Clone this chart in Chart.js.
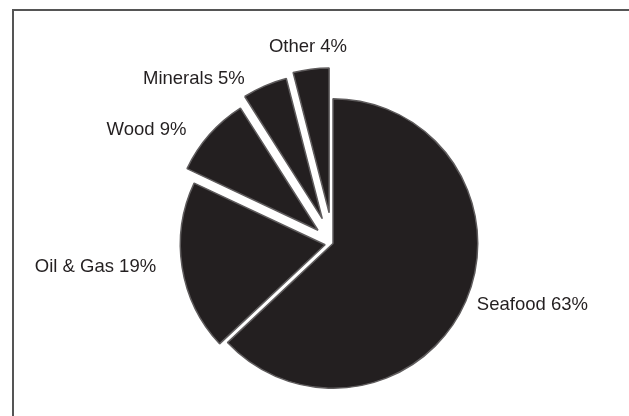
<!DOCTYPE html>
<html>
<head>
<meta charset="utf-8">
<script src="https://cdn.jsdelivr.net/npm/chart.js@4.4.0/dist/chart.umd.min.js"></script>
<style>
  html, body { margin: 0; padding: 0; background: #fff; }
  #wrap { position: relative; width: 629px; height: 416px; overflow: hidden; }
  #frame {
    position: absolute; left: 12px; top: 9px; right: -10px; bottom: -10px;
    border-left: 2px solid #555; border-top: 2px solid #555;
  }
  canvas { position: absolute; left: 0; top: 0; }
</style>
</head>
<body>
<div id="wrap">
  <div id="frame"></div>
  <canvas id="chart" width="629" height="416"></canvas>
</div>
<script>
const categories = ['Seafood', 'Oil & Gas', 'Wood', 'Minerals', 'Other'];
const shares = [63, 19, 9, 5, 4];

// how far each slice is pulled out from the centre (px)
const explode = [0, 8, 20, 27, 31];
// label position relative to the slice's outer midpoint
const labelNudge = [[11, 4], [-26, 0], [-23, -5], [-20, -7], [-3, -22]];
const labelAlign = ['left', 'right', 'right', 'right', 'center'];

const sliceFill = '#231f20';

// draw each arc shifted out along its bisector instead of the built-in offset
const explodePlugin = {
  id: 'explode',
  beforeDatasetDraw(chart, args) {
    const ctx = chart.ctx;
    args.meta.data.forEach((arc, i) => {
      const mid = (arc.startAngle + arc.endAngle) / 2;
      ctx.save();
      ctx.translate(Math.cos(mid) * explode[i], Math.sin(mid) * explode[i]);
      arc.draw(ctx);
      ctx.restore();
    });
    return false;
  }
};

const sliceLabels = {
  id: 'sliceLabels',
  afterDatasetsDraw(chart) {
    const ctx = chart.ctx;
    const meta = chart.getDatasetMeta(0);
    ctx.save();
    ctx.font = '18.5px "Liberation Sans", Arial, sans-serif';
    ctx.fillStyle = '#231f20';
    ctx.textBaseline = 'middle';
    meta.data.forEach((arc, i) => {
      const mid = (arc.startAngle + arc.endAngle) / 2;
      const r = arc.outerRadius + explode[i];
      const x = arc.x + Math.cos(mid) * r + labelNudge[i][0];
      const y = arc.y + Math.sin(mid) * r + labelNudge[i][1];
      ctx.textAlign = labelAlign[i];
      ctx.fillText(categories[i] + ' ' + shares[i] + '%', x, y);
    });
    ctx.restore();
  }
};

new Chart(document.getElementById('chart'), {
  type: 'pie',
  data: {
    labels: categories,
    datasets: [{
      data: shares,
      backgroundColor: sliceFill,
      borderColor: '#5f5c5d',
      borderWidth: 1.5
    }]
  },
  options: {
    responsive: false,
    animation: false,
    layout: { padding: { left: 100, right: 63, top: 98, bottom: 27 } },
    plugins: {
      legend: { display: false },
      tooltip: { enabled: false }
    }
  },
  plugins: [explodePlugin, sliceLabels]
});
</script>
</body>
</html>
